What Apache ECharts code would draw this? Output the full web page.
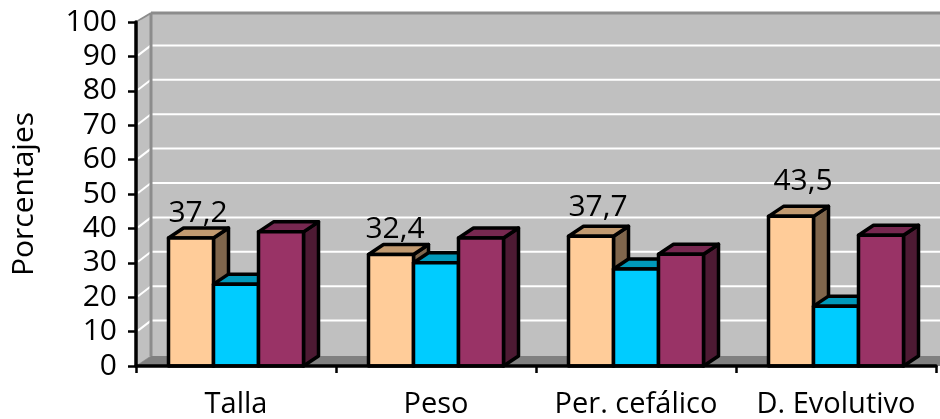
<!DOCTYPE html>
<html>
<head>
<meta charset="utf-8">
<style>
html, body { margin: 0; padding: 0; background: #fff; }
#chart { width: 940px; height: 419px; }
</style>
<script src="https://cdn.jsdelivr.net/npm/echarts@6/dist/echarts.min.js"></script>
</head>
<body>
<div id="chart"></div>
<script>
const categories = ['Talla', 'Peso', 'Per. cefálico', 'D. Evolutivo'];
const serieA = [37.2, 32.4, 37.7, 43.5];
const serieB = [23.8, 30, 28.2, 17.4];
const serieC = [39, 37.2, 32.5, 38];
const yTicks = [10, 20, 30, 40, 50, 60, 70, 80, 90, 100];

// caras de cada barra: frente, tapa, lateral
const coloresA = ['#ffcc99', '#c29a70', '#80664c'];
const coloresB = ['#00ccff', '#0099bb', '#007a99'];
const coloresC = ['#993366', '#772850', '#4d1a33'];

// profundidad del falso 3D
const DX = 15;
const DY = 10;
const FONT = '"Open Sans", sans-serif';

// las etiquetas del original estan movidas a mano
const etiquetaDx = [7, 4, 7, 12];
const etiquetaDy = [25, 25, 29, 35];

const chart = echarts.init(document.getElementById('chart'));

const poly = (points, fill, z2) => ({
    type: 'polygon',
    z2: z2 || 0,
    shape: { points },
    style: { fill, stroke: '#000', lineWidth: 3.5, lineJoin: 'round' }
});

const renderBar = (colores, posicion, conEtiqueta) => (params, api) => {
    const cat = api.value(0);
    const val = api.value(1);
    const top = api.coord([cat, val]);
    const base = api.coord([cat, 0]);
    const w = api.size([1, 0])[0] * 0.225;
    const x0 = top[0] + (posicion - 1.5) * w;
    const x1 = x0 + w;
    const children = [
        poly([[x1, top[1]], [x1 + DX, top[1] - DY], [x1 + DX, base[1] - DY], [x1, base[1]]], colores[2]),
        poly([[x0, top[1]], [x0 + DX, top[1] - DY], [x1 + DX, top[1] - DY], [x1, top[1]]], colores[1]),
        poly([[x0, top[1]], [x1, top[1]], [x1, base[1]], [x0, base[1]]], colores[0])
    ];
    if (conEtiqueta) {
        children.push({
            type: 'text',
            z2: 5,
            style: {
                x: x0 + w / 2 + etiquetaDx[cat],
                y: top[1] - etiquetaDy[cat],
                text: String(val).replace('.', ','),
                fill: '#000',
                font: '30px ' + FONT,
                align: 'center',
                verticalAlign: 'middle'
            }
        });
    }
    return { type: 'group', children };
};

const renderWalls = (params, api) => {
    const r = params.coordSys;
    const left = r.x;
    const right = r.x + r.width + DX;
    const y0 = api.coord([0, 0])[1];
    const y100 = api.coord([0, 100])[1];
    const children = [
        // pared lateral, fondo y suelo
        { type: 'polygon', shape: { points: [[left, y100], [left + DX, y100 - 9], [left + DX, y0 - DY], [left, y0]] }, style: { fill: '#c0c0c0', stroke: '#9a9a9a', lineWidth: 1 } },
        { type: 'rect', shape: { x: left + DX, y: y100 - 9, width: right - left - DX, height: y0 - y100 + 9 - DY }, style: { fill: '#c0c0c0' } },
        { type: 'polygon', shape: { points: [[left, y0], [left + DX, y0 - DY], [right, y0 - DY], [right, y0]] }, style: { fill: '#808080' } }
    ];
    yTicks.forEach(t => {
        const y = api.coord([0, t])[1];
        children.push(
            { type: 'line', shape: { x1: left + 2, y1: y - 1, x2: left + DX, y2: y - 11 }, style: { stroke: '#fff', lineWidth: 2 } },
            { type: 'line', shape: { x1: left + DX, y1: y - 11, x2: right, y2: y - 11 }, style: { stroke: '#fff', lineWidth: 2 } }
        );
    });
    children.push(
        { type: 'line', shape: { x1: left + DX, y1: y100 - 9, x2: left + DX, y2: y0 - DY }, style: { stroke: '#8c8c8c', lineWidth: 3 } },
        { type: 'line', shape: { x1: left + DX, y1: y100 - 9, x2: right, y2: y100 - 9 }, style: { stroke: '#8c8c8c', lineWidth: 3 } },
        { type: 'line', shape: { x1: left, y1: y100, x2: left + DX, y2: y100 - 9 }, style: { stroke: '#8c8c8c', lineWidth: 2 } }
    );
    return { type: 'group', children };
};

const serieBarra = (valores, colores, posicion, conEtiqueta) => ({
    type: 'custom',
    z: 3,
    clip: false,
    renderItem: renderBar(colores, posicion, conEtiqueta),
    encode: { x: 0, y: 1 },
    data: valores.map((v, i) => [i, v])
});

chart.setOption({
    animation: false,
    backgroundColor: '#fff',
    grid: { left: 136, right: 4, top: 22, bottom: 53, outerBoundsMode: 'none' },
    xAxis: {
        type: 'category',
        data: categories,
        z: 6,
        axisLine: { lineStyle: { color: '#000', width: 3.5 } },
        axisTick: { show: true, length: 7, lineStyle: { color: '#000', width: 2.5 } },
        axisLabel: { color: '#000', fontFamily: FONT, fontSize: 29, margin: 24, interval: 0, hideOverlap: false },
        splitLine: { show: false }
    },
    yAxis: {
        type: 'value',
        min: 0,
        max: 100,
        interval: 10,
        z: 6,
        name: 'Porcentajes',
        nameLocation: 'middle',
        nameGap: 97,
        nameRotate: 90,
        nameTextStyle: { color: '#000', fontFamily: FONT, fontSize: 30 },
        axisLine: { show: true, lineStyle: { color: '#000', width: 3.5 } },
        axisTick: { show: true, length: 8, lineStyle: { color: '#000', width: 2.5 } },
        axisLabel: { color: '#000', fontFamily: FONT, fontSize: 30, margin: 19 },
        splitLine: { show: false }
    },
    series: [
        {
            type: 'custom',
            z: 1,
            clip: false,
            silent: true,
            renderItem: renderWalls,
            encode: { x: 0, y: 1 },
            data: [[0, 0]]
        },
        serieBarra(serieA, coloresA, 0, true),
        serieBarra(serieB, coloresB, 1, false),
        serieBarra(serieC, coloresC, 2, false)
    ]
});
</script>
</body>
</html>
